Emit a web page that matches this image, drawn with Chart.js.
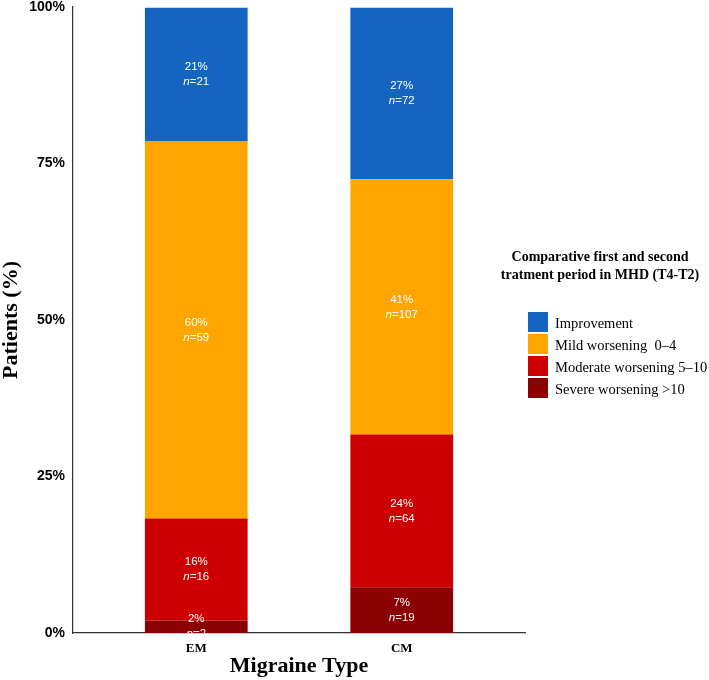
<!DOCTYPE html>
<html>
<head>
<meta charset="utf-8">
<script src="https://cdn.jsdelivr.net/npm/chart.js@4.4.0/dist/chart.umd.min.js"></script>
<style>
  html, body { margin: 0; padding: 0; background: #fff; }
  #chart { display: block; }
</style>
</head>
<body>
<canvas id="chart" width="709" height="680"></canvas>
<script>
// Migraine groups on the x axis
const groups = ['EM', 'CM'];

// share of patients per group (%), bottom of the stack first
const severeShare = [2.0, 7.3];
const moderateShare = [16.3, 24.4];
const mildShare = [60.2, 40.8];
const improvementShare = [21.4, 27.4];

// patient counts shown in the bars
const severeN = [2, 19];
const moderateN = [16, 64];
const mildN = [59, 107];
const improvementN = [21, 72];

const seriesNames = ['Severe worsening >10', 'Moderate worsening 5\u201310', 'Mild worsening  0\u20134', 'Improvement'];
const seriesColors = ['#8B0000', '#CC0000', '#FFA500', '#1565C0'];

const yTicks = [0, 25, 50, 75, 100];
const legendTitle = ['Comparative first and second', 'tratment period in MHD (T4-T2)'];

const shares = [severeShare, moderateShare, mildShare, improvementShare];
const counts = [severeN, moderateN, mildN, improvementN];

// bars sit at x = 1, 2 on a linear axis (discrete scale with ggplot-like expansion)
const datasets = shares.map((s, i) => ({
  label: seriesNames[i],
  data: s.map((v, j) => ({x: j + 1, y: v})),
  counts: counts[i],
  backgroundColor: seriesColors[i],
  borderWidth: 0,
  categoryPercentage: 1,
  barPercentage: 0.5
}));

const barLabels = {
  id: 'barLabels',
  afterDatasetsDraw(chart) {
    const {ctx, chartArea} = chart;
    const reg = '11.5px "Liberation Sans", Arial, sans-serif';
    const ita = 'italic 11.5px "Liberation Sans", Arial, sans-serif';
    ctx.save();
    ctx.beginPath();
    ctx.rect(chartArea.left, chartArea.top, chartArea.right - chartArea.left, chartArea.bottom - chartArea.top);
    ctx.clip();
    ctx.fillStyle = '#ffffff';
    ctx.textBaseline = 'middle';
    chart.data.datasets.forEach((ds, i) => {
      const meta = chart.getDatasetMeta(i);
      meta.data.forEach((bar, j) => {
        const cy = (bar.y + bar.base) / 2;
        const pct = Math.round(ds.data[j].y) + '%';
        ctx.font = reg;
        ctx.textAlign = 'center';
        ctx.fillText(pct, bar.x, cy - 7.5);
        // "n=xx" with italic n
        const rest = '=' + ds.counts[j];
        ctx.font = ita;
        const wN = ctx.measureText('n').width;
        ctx.font = reg;
        const wR = ctx.measureText(rest).width;
        const x0 = bar.x - (wN + wR) / 2;
        ctx.textAlign = 'left';
        ctx.font = ita;
        ctx.fillText('n', x0, cy + 7.5);
        ctx.font = reg;
        ctx.fillText(rest, x0 + wN, cy + 7.5);
      });
    });
    ctx.restore();
  }
};

const sideLegend = {
  id: 'sideLegend',
  afterDraw(chart) {
    const {ctx} = chart;
    ctx.save();
    ctx.fillStyle = '#000';
    ctx.textAlign = 'center';
    ctx.textBaseline = 'middle';
    ctx.font = 'bold 14px "Liberation Serif", "Times New Roman", serif';
    legendTitle.forEach((t, i) => ctx.fillText(t, 600, 257 + i * 18));

    const ds = chart.data.datasets.slice().reverse();
    ctx.textAlign = 'left';
    ctx.font = '14.5px "Liberation Serif", "Times New Roman", serif';
    ds.forEach((d, i) => {
      const y = 312 + i * 22;
      ctx.fillStyle = d.backgroundColor;
      ctx.fillRect(528, y, 20, 20);
      ctx.fillStyle = '#000';
      ctx.fillText(d.label, 555, y + 12);
    });
    ctx.restore();
  }
};

new Chart(document.getElementById('chart'), {
  type: 'bar',
  data: {datasets: datasets},
  options: {
    responsive: false,
    animation: false,
    devicePixelRatio: 1,
    layout: {padding: {top: 7, right: 184, bottom: 0, left: 0}},
    plugins: {
      legend: {display: false},
      tooltip: {enabled: false}
    },
    scales: {
      x: {
        type: 'linear',
        stacked: true,
        offset: false,
        min: 0.4,
        max: 2.6,
        grid: {display: false, drawTicks: false, offset: false},
        border: {display: true, color: '#333', width: 1.2},
        afterBuildTicks: scale => { scale.ticks = groups.map((g, i) => ({value: i + 1})); },
        ticks: {
          padding: 8,
          color: '#000',
          font: {family: '"Liberation Serif", "Times New Roman", serif', size: 13, weight: 'bold'},
          callback: v => groups[v - 1]
        },
        title: {
          display: true,
          text: 'Migraine Type',
          color: '#000',
          padding: {top: 0, bottom: 3},
          font: {family: '"Liberation Serif", "Times New Roman", serif', size: 22, weight: 'bold', lineHeight: 1}
        },
        afterFit: scale => { scale.height = 47; scale.paddingLeft = 0; scale.paddingRight = 0; }
      },
      y: {
        stacked: true,
        min: 0,
        max: 100,
        grid: {display: false, drawTicks: false},
        border: {display: true, color: '#333', width: 1.2},
        afterBuildTicks: scale => { scale.ticks = yTicks.map(v => ({value: v})); },
        ticks: {
          padding: 8,
          color: '#000',
          font: {family: '"Liberation Sans", Arial, sans-serif', size: 14, weight: 'bold'},
          callback: v => v + '%'
        },
        title: {
          display: true,
          text: 'Patients (%)',
          color: '#000',
          padding: {top: 0, bottom: 0},
          font: {family: '"Liberation Serif", "Times New Roman", serif', size: 22, weight: 'bold', lineHeight: 1}
        },
        afterFit: scale => { scale.width = 73; scale.paddingTop = 0; scale.paddingBottom = 0; }
      }
    }
  },
  plugins: [barLabels, sideLegend]
});
</script>
</body>
</html>
